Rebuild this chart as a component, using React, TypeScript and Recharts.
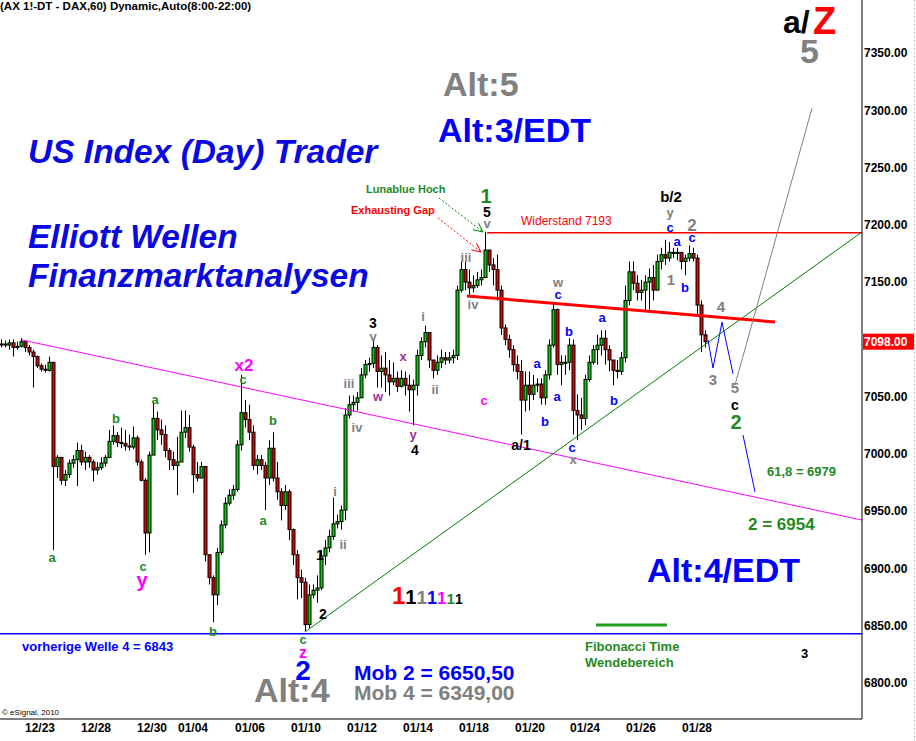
import { ComposedChart, Bar, XAxis, YAxis, ReferenceLine, ReferenceDot } from "recharts";

// DAX 60 min, Dec 23 - Jan 28, two-hour candles
const highs = [
  7100, 7099, 7100, 7100, 7098, 7101, 7098, 7095, 7091, 7086,
  7079, 7078, 7085, 7080, 6999, 6997, 6986, 6995, 6999, 7010,
  7008, 7002, 6999, 6995, 6993, 6997, 6999, 7021, 7025, 7019,
  7023, 7021, 7017, 7024, 7016, 6995, 6979, 7002, 7044, 7037,
  7030, 7025, 7005, 7002, 7015, 7038, 7038, 7034, 7008, 6993,
  6993, 6982, 6912, 6894, 6918, 6942, 6962, 6969, 6973, 7012,
  7069, 7047, 7043, 7025, 6999, 6999, 6993, 7012, 7019, 6993,
  6970, 6973, 6969, 6935, 6916, 6899, 6892, 6886, 6886, 6894,
  6916, 6925, 6934, 6962, 6947, 6955, 7040, 7051, 7051, 7054,
  7075, 7082, 7084, 7100, 7095, 7086, 7089, 7082, 7080, 7072,
  7073, 7072, 7069, 7065, 7091, 7102, 7112, 7095, 7082, 7086,
  7091, 7089, 7089, 7091, 7147, 7168, 7168, 7161, 7156, 7159,
  7161, 7194, 7178, 7171, 7174, 7147, 7113, 7104, 7095, 7086,
  7082, 7072, 7072, 7069, 7066, 7066, 7073, 7100, 7132, 7127,
  7086, 7086, 7101, 7100, 7052, 7049, 7069, 7086, 7095, 7104,
  7108, 7108, 7095, 7082, 7082, 7089, 7147, 7168, 7168, 7156,
  7152, 7156, 7162, 7165, 7174, 7180, 7187, 7185, 7180, 7180,
  7176, 7174, 7182, 7180, 7174, 7134, 7108,
];
const lows = [
  7093, 7093, 7091, 7085, 7091, 7093, 7089, 7086, 7058, 7075,
  7072, 7071, 7072, 6916, 6979, 6973, 6972, 6979, 6988, 6972,
  6990, 6986, 6988, 6976, 6982, 6986, 6989, 6998, 7008, 7006,
  7005, 7003, 7003, 7004, 6990, 6976, 6912, 6914, 7012, 7012,
  7008, 6997, 6986, 6986, 6964, 6993, 7014, 7002, 6966, 6976,
  6979, 6906, 6886, 6853, 6868, 6912, 6935, 6955, 6960, 6967,
  7003, 7023, 7012, 6986, 6982, 6986, 6951, 6973, 6976, 6960,
  6942, 6951, 6925, 6903, 6873, 6874, 6845, 6848, 6874, 6870,
  6881, 6903, 6914, 6925, 6935, 6934, 6942, 7031, 7037, 7038,
  7049, 7066, 7072, 7075, 7058, 7058, 7054, 7051, 7060, 7054,
  7058, 7051, 7037, 7025, 7051, 7082, 7093, 7075, 7066, 7069,
  7075, 7078, 7079, 7079, 7082, 7141, 7143, 7139, 7141, 7145,
  7147, 7174, 7159, 7147, 7134, 7104, 7095, 7084, 7072, 7065,
  7017, 7037, 7038, 7047, 7054, 7043, 7043, 7065, 7093, 7069,
  7060, 7069, 7073, 7017, 7012, 7021, 7025, 7063, 7078, 7078,
  7086, 7078, 7072, 7060, 7066, 7069, 7080, 7130, 7143, 7134,
  7134, 7124, 7126, 7134, 7147, 7161, 7165, 7168, 7171, 7169,
  7161, 7156, 7168, 7168, 7121, 7089, 7093,
];
const closes = [
  7096, 7095, 7097, 7093, 7094, 7098, 7093, 7089, 7085, 7077,
  7074, 7073, 7080, 6989, 6997, 6977, 6982, 6992, 6995, 7003,
  6993, 6997, 6993, 6986, 6988, 6992, 6997, 7011, 7016, 7010,
  7009, 7007, 7006, 7014, 6993, 6977, 6931, 6999, 7031, 7021,
  7017, 7003, 6995, 6990, 6993, 7019, 7023, 7006, 6982, 6979,
  6989, 6912, 6892, 6877, 6914, 6938, 6957, 6964, 6969, 7008,
  7036, 7030, 7019, 6990, 6995, 6990, 6979, 7005, 6979, 6967,
  6955, 6967, 6934, 6912, 6892, 6888, 6851, 6877, 6881, 6883,
  6911, 6918, 6928, 6939, 6941, 6951, 7034, 7043, 7045, 7049,
  7069, 7078, 7079, 7093, 7072, 7075, 7069, 7063, 7066, 7059,
  7066, 7060, 7056, 7060, 7086, 7098, 7106, 7082, 7073, 7080,
  7084, 7082, 7084, 7086, 7143, 7161, 7150, 7145, 7147, 7152,
  7154, 7178, 7165, 7161, 7143, 7110, 7100, 7091, 7078, 7072,
  7047, 7060, 7052, 7060, 7061, 7049, 7069, 7095, 7126, 7078,
  7080, 7080, 7095, 7038, 7034, 7031, 7065, 7080, 7091, 7095,
  7101, 7091, 7082, 7073, 7072, 7084, 7134, 7159, 7149, 7141,
  7143, 7150, 7154, 7143, 7168, 7174, 7171, 7176, 7175, 7176,
  7168, 7171, 7175, 7171, 7130, 7104, 7098,
];

const dateTicks = [10, 24, 38, 48.25, 62.5, 76.5, 90.5, 104.5, 118.5, 132.5, 146.25, 160.25, 174.25];
const dateLabels = ["12/23", "12/28", "12/30", "01/04", "01/06", "01/10", "01/12", "01/14", "01/18", "01/20", "01/24", "01/26", "01/28"];
// 7100.00 sits under the last-price tag, so it is not listed
const priceTicks = [6800, 6850, 6900, 6950, 7000, 7050, 7150, 7200, 7250, 7300, 7350];
const lastPrice = 7098;
const resistance = 7193;
const prevWave4 = 6843;

const F = "'Liberation Sans', Arial, sans-serif";
const GREEN = "#1f8a1f";
const BLUE = "#0000ff";
const GRAY = "#808080";
const MAG = "#ff00ff";
const PURP = "#993399";

const candles = closes.map((c, i) => {
  const o = i === 0 ? c : closes[i - 1];
  const h = Math.max(highs[i], o, c);
  const l = Math.min(lows[i], o, c);
  return { x: i + 0.5, open: o, close: c, high: h, low: l, range: [l, h] };
});

// wave counts: [text, bar, price, colour, size]
const waveLabels: [string, number, number, string, number][] = [
  ["a", 13, 6910, GREEN, 13], ["b", 29, 7031, GREEN, 13], ["c", 35.75, 6902, GREEN, 13],
  ["y", 35.5, 6890, MAG, 20], ["a", 38.75, 7048, GREEN, 13], ["x2", 61, 7078, MAG, 17],
  ["c", 60.75, 7065, GREEN, 13], ["b", 68.25, 7029, GREEN, 13], ["a", 65.75, 6942, GREEN, 13],
  ["b", 53.25, 6845, GREEN, 13], ["c", 75.75, 6838, GREEN, 13], ["z", 75.75, 6827, MAG, 16],
  ["2", 75.75, 6811, BLUE, 28], ["1", 80, 6912, "#000", 14], ["2", 80.75, 6860, "#000", 14],
  ["i", 83.75, 6967, GRAY, 13], ["ii", 85.75, 6921, GRAY, 13], ["iii", 87.25, 7062, GRAY, 13],
  ["iv", 89.25, 7023, GRAY, 13], ["3", 93.25, 7114, "#000", 14], ["v", 93.25, 7103, GRAY, 13],
  ["w", 94.5, 7050, PURP, 13], ["x", 100.75, 7085, PURP, 13], ["y", 103.25, 7017, PURP, 13],
  ["4", 103.75, 7003, "#000", 14], ["i", 105.75, 7120, GRAY, 13], ["ii", 108.75, 7056, GRAY, 13],
  ["iii", 116.5, 7172, GRAY, 13], ["iv", 118.25, 7131, GRAY, 13], ["c", 121, 7047, MAG, 13],
  ["1", 121.5, 7225, GREEN, 20], ["5", 121.75, 7211, "#000", 14], ["v", 121.75, 7201, GRAY, 13],
  ["a/1", 130.25, 7008, "#000", 14], ["a", 134.25, 7079, BLUE, 13], ["b", 136.25, 7028, BLUE, 13],
  ["w", 139.5, 7150, GRAY, 13], ["c", 139.5, 7139, BLUE, 13], ["a", 139.25, 7050, BLUE, 13],
  ["b", 142.25, 7107, BLUE, 13], ["c", 143, 7006, BLUE, 13], ["x", 143.25, 6995, GRAY, 13],
  ["a", 150.5, 7119, BLUE, 13], ["b", 153.5, 7047, BLUE, 13], ["b/2", 167.75, 7225, "#000", 15],
  ["y", 167.5, 7211, GRAY, 13], ["c", 167.5, 7198, BLUE, 13], ["a", 169.25, 7186, BLUE, 13],
  ["2", 173, 7200, GRAY, 17], ["c", 173, 7189, BLUE, 13], ["1", 167.75, 7152, GRAY, 15],
  ["b", 171.25, 7145, BLUE, 13], ["4", 180.25, 7129, GRAY, 15], ["3", 178.25, 7065, GRAY, 15],
  ["5", 183.75, 7058, GRAY, 15], ["c", 183.75, 7043, "#000", 14], ["2", 184, 7028, GREEN, 20],
];

// annotation lines: [x1, p1, x2, p2, colour, width, dash]
const trendLines: [number, number, number, number, string, number, string][] = [
  [5.5, 7099.5, 215.5, 6942.3, MAG, 1, ""],
  [76.25, 6844.6, 215.5, 7193.8, "#008000", 1, ""],
  [116.75, 7137.9, 193.75, 7115.2, "#ff0000", 3, ""],
  [183.75, 7060.2, 203, 7302, GRAY, 1, ""],
  [177, 7099.5, 178.25, 7075, BLUE, 1, ""],
  [178.25, 7075, 180.5, 7115, BLUE, 1, ""],
  [180.5, 7115, 183.25, 7070, BLUE, 1, ""],
  [185.75, 7016.5, 188.75, 6966.8, BLUE, 1, ""],
  [149, 6850.7, 166.75, 6850.7, "#22a022", 3, ""],
  [109.75, 7223.4, 120.75, 7193.8, "#008000", 1, "2 2"],
  [119.6, 7201.5, 120.75, 7193.8, "#008000", 1, ""],
  [118.3, 7195.7, 120.75, 7193.8, "#008000", 1, ""],
  [109.5, 7206, 120.25, 7176.3, "#ff0000", 1, "2 2"],
  [119.1, 7184.1, 120.25, 7176.3, "#ff0000", 1, ""],
  [117.8, 7178.2, 120.25, 7176.3, "#ff0000", 1, ""],
];

const Candle = (props: any) => {
  const { x, y, width, height, payload } = props;
  const { open, close, high, low } = payload;
  const h = Math.abs(height);
  const top = height >= 0 ? y : y + height;
  const ppu = h / (high - low || 1);
  const bTop = top + (high - Math.max(open, close)) * ppu;
  const bBot = top + (high - Math.min(open, close)) * ppu;
  const cx = Math.round(x + width / 2) - 0.5;
  return (
    <g>
      <line x1={cx} x2={cx} y1={top} y2={top + h} stroke="#000" strokeWidth={1} />
      <rect x={x} y={bTop} width={width} height={Math.max(1, bBot - bTop)}
        fill={close >= open ? "#00d000" : "#e00000"} stroke="#000" strokeWidth={1} />
    </g>
  );
};

const PriceTag = (p: any) => {
  const vb = p.viewBox;
  const x = vb.x + vb.width;
  return (
    <g>
      <rect x={x + 1} y={vb.y - 8} width={51} height={16} fill="#ff0000" />
      <text x={x + 2} y={vb.y + 4.5} fill="#fff" fontSize={12} fontWeight="bold" fontFamily={F}>
        {lastPrice.toFixed(2)}
      </text>
    </g>
  );
};

const T = ({ x, y, s, c, w = "bold", it = false, children }: any) => (
  <text x={x} y={y} fontSize={s} fill={c} fontWeight={w} fontStyle={it ? "italic" : "normal"}
    fontFamily={F} dominantBaseline="central">{children}</text>
);

export default function App() {
  return (
    <div style={{ position: "absolute", left: 0, top: 0, width: 916, height: 741, background: "#fff" }}>
      <ComposedChart width={916} height={741} data={candles} margin={{ top: 0, right: 0, bottom: 0, left: 0 }}>
        <XAxis dataKey="x" type="number" domain={[0, 215.5]} allowDataOverflow ticks={dateTicks} interval={0}
          tickFormatter={(v: number) => dateLabels[dateTicks.indexOf(v)]} height={22}
          tickLine={false} tickSize={0} tickMargin={4} axisLine={{ stroke: "#000" }}
          tick={{ fontSize: 12, fontWeight: "bold", fill: "#000", fontFamily: F }} />
        <YAxis orientation="right" type="number" domain={[6768.6, 7396.3]} allowDataOverflow ticks={priceTicks}
          interval={0} width={54} tickLine={false} tickSize={0} tickMargin={2} axisLine={{ stroke: "#000" }}
          tickFormatter={(v: number) => v.toFixed(2)}
          tick={{ fontSize: 12, fontWeight: "bold", fill: "#000", fontFamily: F, textAnchor: "start" }} />
        <ReferenceLine y={prevWave4} stroke={BLUE} strokeWidth={1.5} />
        <ReferenceLine segment={[{ x: 121.75, y: resistance }, { x: 215.5, y: resistance }]} stroke="#ff0000" strokeWidth={1.5} />
        {trendLines.map(([x1, p1, x2, p2, c, w, d], k) => (
          <ReferenceLine key={"l" + k} segment={[{ x: x1, y: p1 }, { x: x2, y: p2 }]} stroke={c}
            strokeWidth={w} strokeDasharray={d || undefined} ifOverflow="visible" />
        ))}
        <Bar dataKey="range" barSize={3} shape={Candle} isAnimationActive={false} />
        {waveLabels.map(([t, x, p, c, s], k) => (
          <ReferenceDot key={"w" + k} x={x} y={p} r={0} fill="none" stroke="none" ifOverflow="visible"
            label={{ value: t, position: "center", fill: c, fontSize: s, fontWeight: "bold", fontFamily: F }} />
        ))}
        <ReferenceLine y={lastPrice} stroke="none" ifOverflow="visible" label={PriceTag} />
      </ComposedChart>
      <svg width={916} height={741} style={{ position: "absolute", left: 0, top: 0, pointerEvents: "none" }}>
        <line x1={914.5} x2={914.5} y1={0} y2={741} stroke="#c8c8c8" strokeDasharray="2 2" />
        <T x={0} y={6} s={11.5} c="#000">(AX 1!-DT - DAX,60) Dynamic,Auto(8:00-22:00)</T>
        <T x={28} y={151} s={33.5} c="#0a0ae0" it>US Index (Day) Trader</T>
        <T x={28} y={236} s={33.5} c="#0a0ae0" it>Elliott Wellen</T>
        <T x={28} y={275} s={33.5} c="#0a0ae0" it>Finanzmarktanalysen</T>
        <T x={443} y={84} s={34} c={GRAY}>Alt:5</T>
        <T x={438} y={130} s={34} c={BLUE}>Alt:3/EDT</T>
        <T x={783} y={22} s={32} c="#000">a/</T>
        <T x={813} y={21} s={38} c="#ff0000">Z</T>
        <T x={800} y={51} s={34} c={GRAY}>5</T>
        <T x={647} y={570} s={34} c={BLUE}>Alt:4/EDT</T>
        <T x={254} y={690} s={34} c={GRAY}>Alt:4</T>
        <T x={354} y={672} s={21} c={BLUE}>Mob 2 = 6650,50</T>
        <T x={354} y={692} s={21} c={GRAY}>Mob 4 = 6349,00</T>
        <T x={22} y={646} s={13} c={BLUE}>vorherige Welle 4 = 6843</T>
        <T x={585} y={646} s={13} c={GREEN}>Fibonacci Time</T>
        <T x={585} y={662} s={13} c={GREEN}>Wendebereich</T>
        <T x={801} y={653} s={13} c="#000">3</T>
        <T x={2} y={712} s={8} c="#000" w="normal">© eSignal, 2010</T>
        <T x={767} y={471} s={13} c={GREEN}>61,8 = 6979</T>
        <T x={748} y={524} s={17} c={GREEN}>2 = 6954</T>
        <T x={521} y={221} s={12} c="#ff0000" w="normal">Widerstand 7193</T>
        <T x={351} y={210} s={11} c="#ff0000">Exhausting Gap</T>
        <T x={366} y={189} s={11} c={GREEN}>Lunablue Hoch</T>
        <text x={392} y={604} fontFamily={F} fontWeight="bold">
          <tspan fill="#ff0000" fontSize={24}>1</tspan>
          <tspan fill="#000" fontSize={20}>1</tspan>
          <tspan fill={GRAY} fontSize={19}>1</tspan>
          <tspan fill={BLUE} fontSize={18}>1</tspan>
          <tspan fill={MAG} fontSize={17}>1</tspan>
          <tspan fill={GREEN} fontSize={15}>1</tspan>
          <tspan fill="#000" fontSize={14}>1</tspan>
        </text>
      </svg>
    </div>
  );
}
